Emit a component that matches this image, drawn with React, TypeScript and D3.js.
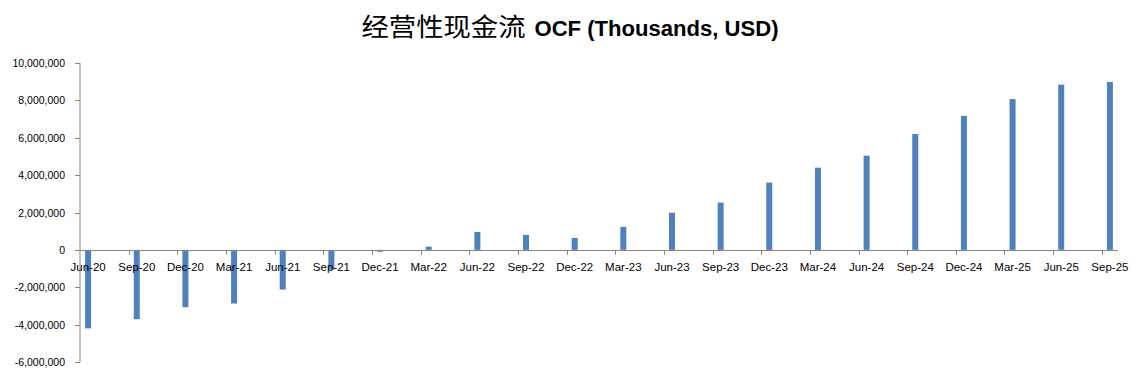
import React from "react";
import * as d3 from "d3";

const categories = ["Jun-20","Sep-20","Dec-20","Mar-21","Jun-21","Sep-21","Dec-21","Mar-22","Jun-22","Sep-22","Dec-22","Mar-23","Jun-23","Sep-23","Dec-23","Mar-24","Jun-24","Sep-24","Dec-24","Mar-25","Jun-25","Sep-25"];
const ocfValues = [-4200000,-3710000,-3070000,-2870000,-2120000,-1050000,-100000,170000,960000,800000,640000,1230000,1990000,2530000,3600000,4400000,5040000,6200000,7170000,8070000,8840000,8980000];
const yTicks = [-6000000,-4000000,-2000000,0,2000000,4000000,6000000,8000000,10000000];
const monthsPerCategory = 3;

const W = 1141, H = 377;
const left = 80, right = 1118, top = 63, bottom = 362;

export default function App() {
  const totalMonths = categories.length * monthsPerCategory - 2;
  const x = d3.scaleLinear().domain([0, totalMonths]).range([left, right]);
  const y = d3.scaleLinear().domain([-6000000, 10000000]).range([bottom, top]);
  const fmt = (v: number) => d3.format(",")(v).replace("\u2212", "-");
  const barW = 6;
  const y0 = y(0);
  const axisColor = "#868686";
  const font = "'Liberation Sans', Arial, sans-serif";
  return (
    <svg width={W} height={H} style={{ position: "absolute", left: 0, top: 0, background: "#fff" }}>
      <text x={570} y={36} textAnchor="middle" fill="#000">
        <tspan fontFamily="'Noto Sans CJK SC', sans-serif" fontSize={25} fontWeight={400} textLength={164} lengthAdjust="spacingAndGlyphs">经营性现金流</tspan>
        <tspan fontFamily={font} fontWeight="bold" fontSize={22} dx={9} textLength={244} lengthAdjust="spacingAndGlyphs">OCF (Thousands, USD)</tspan>
      </text>
      {/* bars */}
      {ocfValues.map((v, i) => {
        const cx = x(i * monthsPerCategory + 0.5);
        const yv = y(v);
        return (
          <rect key={i} x={cx - barW / 2} y={Math.min(yv, y0)} width={barW} height={Math.abs(yv - y0)} fill="#4F81BD" />
        );
      })}
      {/* y axis */}
      <line x1={left} x2={left} y1={top} y2={bottom} stroke={axisColor} />
      {yTicks.map((t) => (
        <g key={t}>
          <line x1={left - 5} x2={left} y1={Math.round(y(t)) + 0.5} y2={Math.round(y(t)) + 0.5} stroke={axisColor} />
          <text x={65} y={y(t) + 4} textAnchor="end" fontFamily={font} fontSize={10.5} fill="#000">{fmt(t)}</text>
        </g>
      ))}
      {/* x axis */}
      <line x1={left} x2={right} y1={Math.round(y0) + 0.5} y2={Math.round(y0) + 0.5} stroke={axisColor} />
      {categories.map((c, i) => {
        const tx = x(i * monthsPerCategory);
        return i > 0 ? (
          <line key={"t" + i} x1={Math.round(tx) + 0.5} x2={Math.round(tx) + 0.5} y1={y0} y2={y0 + 5} stroke={axisColor} />
        ) : null;
      })}
      {categories.map((c, i) => (
        <text key={c} x={x(i * monthsPerCategory + 0.5)} y={y0 + 21.5} textAnchor="middle" fontFamily={font} fontSize={11.5} fill="#000">{c}</text>
      ))}
    </svg>
  );
}
